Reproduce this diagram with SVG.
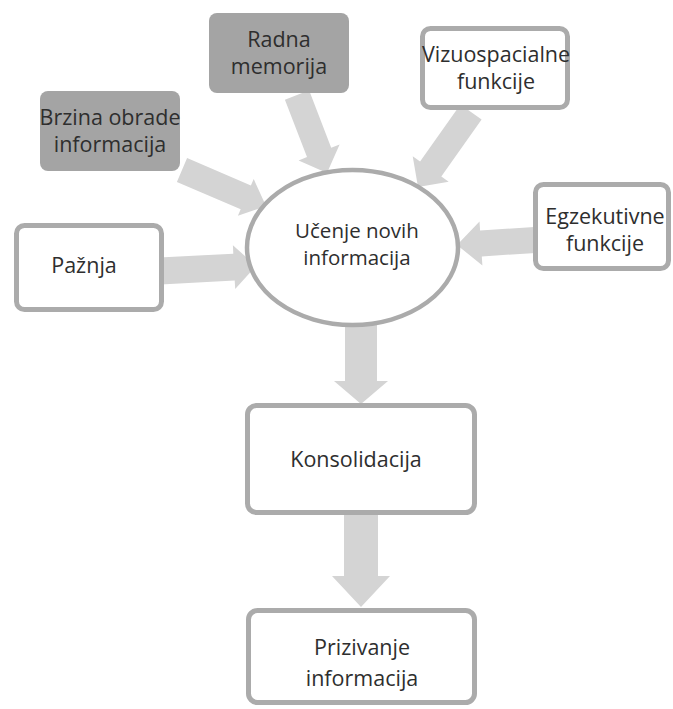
<svg xmlns="http://www.w3.org/2000/svg" width="673" height="709" viewBox="0 0 673 709">
<style>
.arrow{fill:#d4d4d4;stroke:none}
.box{fill:#ffffff;stroke:#ababab;stroke-width:5}
.gbox{fill:#a4a4a4;stroke:none}
.ell{fill:#ffffff;stroke:#ababab;stroke-width:4.5}
text{font-family:"Open Sans","Noto Sans","DejaVu Sans",sans-serif;font-size:21.5px;fill:#2e2e2e;text-anchor:middle}
.small{font-size:20.5px}
</style>
<rect width="673" height="709" fill="#ffffff"/>
<g id="connectors">
<polygon class="arrow" points="160.7,284.5 234.7,280.6 235.2,289.1 256,266 232.9,245.2 233.3,253.7 159.3,257.5"/>
<polygon class="arrow" points="176.9,182 240.7,209.3 237.9,215.7 266,206 253.7,179 250.9,185.4 187.1,158"/>
<polygon class="arrow" points="284.9,99.7 307,157.1 298.6,160.4 327,173 339.6,144.6 331.2,147.8 309.1,90.3"/>
<polygon class="arrow" points="460.4,104.5 420.1,161.5 412.7,156.3 418,187 448.7,181.7 441.3,176.5 481.6,119.5"/>
<polygon class="arrow" points="534.2,227 480.1,230.5 479.5,221.5 457,245 482.4,265.4 481.8,256.4 535.8,253"/>
<polygon class="arrow" points="345,320 377,320 377,381 388,381 361,404 334,381 345,381"/>
<polygon class="arrow" points="344,512 378,512 378,576 390,576 361,607 332,576 344,576"/>
</g>
<g id="radna">
<rect class="gbox" x="209" y="13" width="140" height="80" rx="8"/>
<text x="279" y="47">Radna</text>
<text x="279" y="74">memorija</text>
</g>
<g id="brzina">
<rect class="gbox" x="40" y="91" width="140" height="80" rx="8"/>
<text x="110" y="125">Brzina obrade</text>
<text x="110" y="152">informacija</text>
</g>
<g id="vizuo">
<rect class="box" x="422.5" y="28.5" width="145" height="79" rx="8"/>
<text x="496" y="62">Vizuospacialne</text>
<text x="496" y="89">funkcije</text>
</g>
<g id="egzekutivne">
<rect class="box" x="535.5" y="184.5" width="133" height="84" rx="8"/>
<text x="605" y="224">Egzekutivne</text>
<text x="605" y="251">funkcije</text>
</g>
<g id="paznja">
<rect class="box" x="16.5" y="225.5" width="145" height="84" rx="8"/>
<text x="84" y="273">Pažnja</text>
</g>
<g id="ucenje">
<ellipse class="ell" cx="352.5" cy="247.5" rx="105.5" ry="77.5"/>
<text class="small" x="357" y="238">Učenje novih</text>
<text class="small" x="357" y="265">informacija</text>
</g>
<g id="konsolidacija">
<rect class="box" x="247.5" y="405.5" width="227" height="107" rx="9"/>
<text x="356" y="467">Konsolidacija</text>
</g>
<g id="prizivanje">
<rect class="box" x="248.5" y="610.5" width="226" height="92" rx="9"/>
<text x="362" y="655">Prizivanje</text>
<text x="362" y="686">informacija</text>
</g>
</svg>
